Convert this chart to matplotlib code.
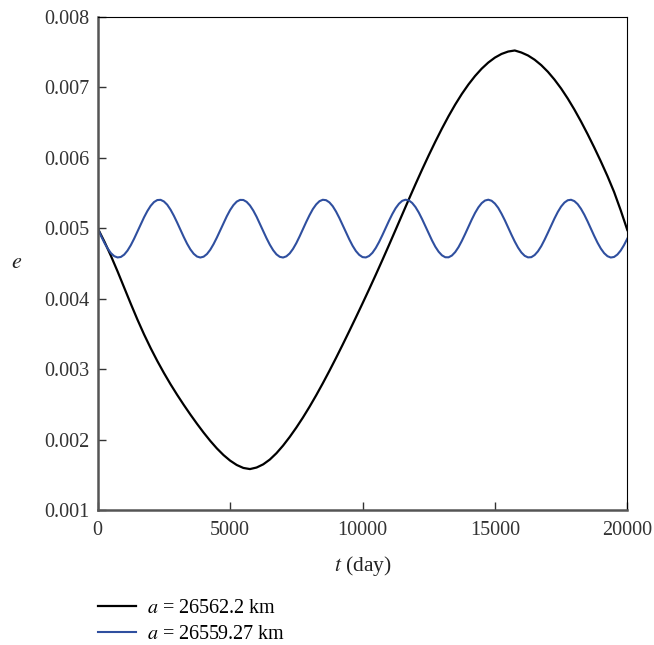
import numpy as np
import matplotlib
matplotlib.use("Agg")
import matplotlib.pyplot as plt

plt.rcParams['font.family'] = ['Liberation Serif', 'DejaVu Serif']
plt.rcParams['mathtext.fontset'] = 'stix'

# eccentricity, black curve every 250 days
t_black = np.arange(0, 20001, 250)
e_black = [0.005000, 0.004813, 0.004608, 0.004388, 0.004158, 0.003928, 0.003705, 0.003495,
           0.003300, 0.003118, 0.002948, 0.002788, 0.002638, 0.002495, 0.002358, 0.002227,
           0.002102, 0.001985, 0.001878, 0.001784, 0.001705, 0.001643, 0.001601, 0.001585,
           0.001607, 0.001652, 0.001720, 0.001810, 0.001918, 0.002040, 0.002173, 0.002316,
           0.002469, 0.002631, 0.002801, 0.002978, 0.003161, 0.003349, 0.003541, 0.003736,
           0.003934, 0.004135, 0.004340, 0.004549, 0.004762, 0.004978, 0.005195, 0.005411,
           0.005624, 0.005832, 0.006034, 0.006228, 0.006414, 0.006590, 0.006754, 0.006904,
           0.007039, 0.007159, 0.007263, 0.007350, 0.007420, 0.007472, 0.007506, 0.007521,
           0.007492, 0.007450, 0.007390, 0.007313, 0.007219, 0.007108, 0.006982, 0.006840,
           0.006684, 0.006515, 0.006335, 0.006146, 0.005948, 0.005740, 0.005515, 0.005255,
           0.004975]

# blue curve every 125 days
t_blue = np.arange(0, 20001, 125)
e_blue = [0.005000, 0.004892, 0.004796, 0.004713, 0.004647, 0.004604, 0.004586, 0.004593,
          0.004626, 0.004683, 0.004760, 0.004852, 0.004952, 0.005055, 0.005155, 0.005244,
          0.005318, 0.005371, 0.005400, 0.005403, 0.005380, 0.005334, 0.005264, 0.005178,
          0.005081, 0.004978, 0.004876, 0.004781, 0.004700, 0.004638, 0.004599, 0.004585,
          0.004597, 0.004634, 0.004695, 0.004775, 0.004868, 0.004969, 0.005073, 0.005170,
          0.005258, 0.005328, 0.005378, 0.005402, 0.005401, 0.005374, 0.005323, 0.005251,
          0.005163, 0.005063, 0.004960, 0.004859, 0.004767, 0.004689, 0.004630, 0.004595,
          0.004585, 0.004602, 0.004643, 0.004707, 0.004789, 0.004885, 0.004987, 0.005090,
          0.005186, 0.005272, 0.005338, 0.005384, 0.005404, 0.005398, 0.005367, 0.005313,
          0.005237, 0.005146, 0.005046, 0.004943, 0.004843, 0.004752, 0.004677, 0.004623,
          0.004591, 0.004586, 0.004607, 0.004652, 0.004720, 0.004805, 0.004902, 0.005004,
          0.005106, 0.005201, 0.005284, 0.005347, 0.005389, 0.005405, 0.005395, 0.005359,
          0.005301, 0.005223, 0.005130, 0.005029, 0.004926, 0.004827, 0.004738, 0.004667,
          0.004616, 0.004589, 0.004588, 0.004613, 0.004662, 0.004732, 0.004820, 0.004918,
          0.005022, 0.005123, 0.005217, 0.005296, 0.005356, 0.005393, 0.005405, 0.005390,
          0.005350, 0.005289, 0.005206, 0.005113, 0.005011, 0.004908, 0.004811, 0.004725,
          0.004656, 0.004609, 0.004587, 0.004590, 0.004620, 0.004673, 0.004746, 0.004837,
          0.004936, 0.005039, 0.005139, 0.005231, 0.005308, 0.005364, 0.005397, 0.005404,
          0.005385, 0.005342, 0.005276, 0.005193, 0.005097, 0.004994, 0.004891, 0.004795,
          0.004712, 0.004647, 0.004604, 0.004585, 0.004593, 0.004627, 0.004684, 0.004761,
          0.004853]

labels = [r'$a$ = 26562.2 km', r'$a$ = 26559.27 km']
colors = ['black', '#2f4f9f']

fig = plt.figure(figsize=(6.54, 6.45), dpi=100)
ax = fig.add_axes([0.1494, 0.2088, 0.8098, 0.7653])

l1, = ax.plot(t_black, e_black, color=colors[0], lw=1.6)
l2, = ax.plot(t_blue, e_blue, color=colors[1], lw=1.5)

ax.set_xlim(0, 20000)
ax.set_ylim(0.001, 0.008)
ax.set_xticks([0, 5000, 10000, 15000, 20000])
ax.set_yticks([0.001, 0.002, 0.003, 0.004, 0.005, 0.006, 0.007, 0.008])
ax.set_yticklabels(['0.001', '0.002', '0.003', '0.004', '0.005', '0.006', '0.007', '0.008'])
ax.tick_params(direction='in', length=6, width=1, labelsize=14.5, colors='#333333',
               top=False, right=False)
ax.tick_params(axis='x', pad=8)
ax.tick_params(axis='y', pad=6)

for s in ['left', 'bottom']:
    ax.spines[s].set_color('#555555')
    ax.spines[s].set_linewidth(1.8)
for s in ['top', 'right']:
    ax.spines[s].set_color('black')
    ax.spines[s].set_linewidth(0.8)

ax.set_xlabel(r'$t$ (day)', fontsize=15.5, color='#222222', labelpad=10)
fig.text(0.026, 0.592, r'$e$', fontsize=16, color='#222222', ha='center', va='center')

fig.legend([l1, l2], labels, loc='upper left', bbox_to_anchor=(0.15, 0.071),
           frameon=False, fontsize=14.5, handlelength=1.9, handletextpad=0.55,
           labelspacing=0.35, borderaxespad=0, borderpad=0)

fig.savefig('out.png', dpi=100)
